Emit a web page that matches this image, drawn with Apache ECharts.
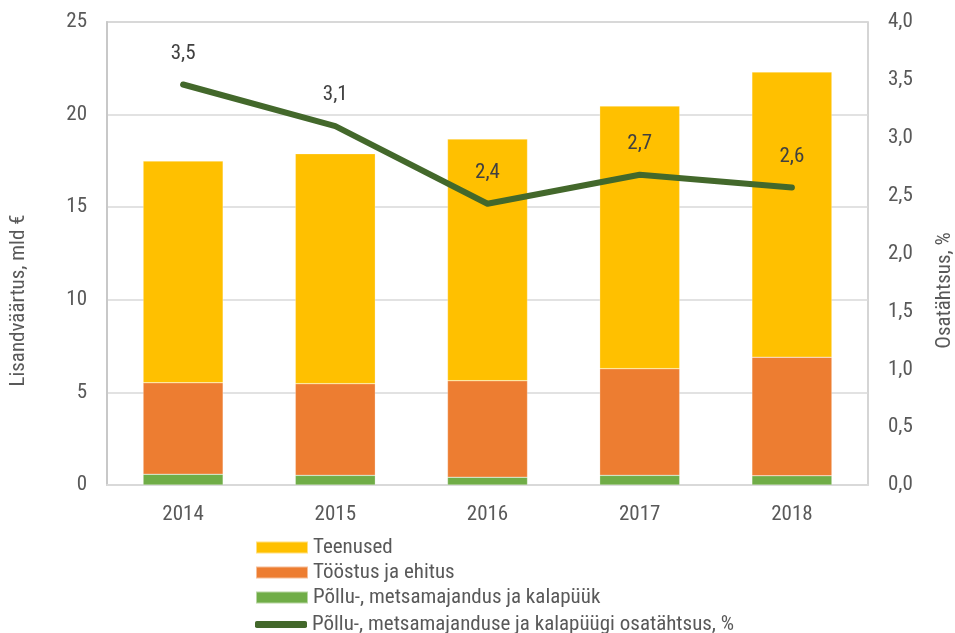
<!DOCTYPE html>
<html>
<head>
<meta charset="utf-8">
<script src="https://cdn.jsdelivr.net/npm/echarts@6/dist/echarts.min.js"></script>
<style>
  html, body { margin: 0; padding: 0; background: #fff; }
  #chart { width: 955px; height: 633px; }
</style>
</head>
<body>
<div id="chart"></div>
<script>
var years = ['2014', '2015', '2016', '2017', '2018'];
var teenused = [11.97, 12.42, 13.05, 14.18, 15.40];
var toostus = [4.94, 4.95, 5.21, 5.76, 6.40];
var pollu = [0.58, 0.52, 0.42, 0.52, 0.50];
var osatahtsus = [3.46, 3.10, 2.43, 2.68, 2.57];

var FONT = "'Roboto Condensed', 'Liberation Sans Narrow', 'DejaVu Sans Condensed', Roboto, sans-serif";
var LINE_NAME = 'Põllu-, metsamajanduse ja kalapüügi osatähtsus, %';

function comma(v, d) {
    return Number(v).toFixed(d).replace('.', ',');
}

var dom = document.getElementById('chart');
var myChart = echarts.init(dom, null, { renderer: 'canvas' });

var legendText = { fontFamily: FONT, fontSize: 21, lineHeight: 21, color: '#595959' };

var option = {
    animation: false,
    textStyle: { fontFamily: FONT },
    grid: {
        left: 107,
        right: 87,
        top: 22,
        bottom: 148,
        outerBoundsMode: 'none',
        show: true,
        borderColor: '#c8c8c8',
        borderWidth: 1.5
    },
    legend: [
        {
            orient: 'vertical',
            left: 250,
            top: 532,
            itemWidth: 52,
            itemHeight: 12,
            itemGap: 4,
            itemTextGap: 6,
            textStyle: legendText,
            data: [
                { name: 'Teenused', icon: 'rect' },
                { name: 'Tööstus ja ehitus', icon: 'rect' },
                { name: 'Põllu-, metsamajandus ja kalapüük', icon: 'rect' }
            ]
        },
        {
            orient: 'vertical',
            left: 250,
            top: 609,
            itemWidth: 52,
            itemHeight: 7,
            itemTextGap: 6,
            textStyle: legendText,
            data: [{ name: LINE_NAME, icon: 'roundRect' }]
        }
    ],
    xAxis: {
        type: 'category',
        data: years,
        axisTick: { show: false },
        axisLine: { lineStyle: { color: '#d9d9d9', width: 2 } },
        axisLabel: { fontFamily: FONT, fontSize: 21, color: '#595959', margin: 19 }
    },
    yAxis: [
        {
            type: 'value',
            min: 0,
            max: 25,
            interval: 5,
            name: 'Lisandväärtus, mld €',
            nameLocation: 'middle',
            nameRotate: 90,
            nameGap: 78,
            nameTextStyle: { fontFamily: FONT, fontSize: 21, color: '#595959', padding: [0, 94, 0, 0] },
            axisLine: { show: true, lineStyle: { color: '#c8c8c8', width: 2 } },
            axisTick: { show: false },
            axisLabel: { fontFamily: FONT, fontSize: 21, color: '#595959', margin: 20 },
            splitLine: { lineStyle: { color: '#d9d9d9', width: 1.5 } }
        },
        {
            type: 'value',
            min: 0,
            max: 4,
            interval: 0.5,
            name: 'Osatähtsus, %',
            nameLocation: 'middle',
            nameRotate: 90,
            nameGap: 66,
            nameTextStyle: { fontFamily: FONT, fontSize: 21, color: '#595959', padding: [0, 74, 0, 0] },
            axisLine: { show: false },
            axisTick: { show: false },
            axisLabel: {
                fontFamily: FONT, fontSize: 21, color: '#595959', margin: 20,
                formatter: function (v) { return comma(v, 1); }
            },
            splitLine: { show: false }
        }
    ],
    series: [
        {
            name: 'Põllu-, metsamajandus ja kalapüük',
            type: 'bar',
            stack: 'total',
            barWidth: 80,
            itemStyle: { color: '#70AD47', borderColor: 'rgba(255,255,255,0.5)', borderWidth: 0.5 },
            data: pollu
        },
        {
            name: 'Tööstus ja ehitus',
            type: 'bar',
            stack: 'total',
            barWidth: 80,
            itemStyle: { color: '#ED7D31', borderColor: 'rgba(255,255,255,0.5)', borderWidth: 0.5 },
            data: toostus
        },
        {
            name: 'Teenused',
            type: 'bar',
            stack: 'total',
            barWidth: 80,
            itemStyle: { color: '#FFC000', borderColor: 'rgba(255,255,255,0.5)', borderWidth: 0.5 },
            data: teenused
        },
        {
            name: LINE_NAME,
            type: 'line',
            yAxisIndex: 1,
            symbol: 'circle',
            symbolSize: 1,
            lineStyle: { color: '#43682B', width: 6, cap: 'round', join: 'round' },
            itemStyle: { color: '#43682B' },
            label: {
                show: true,
                position: 'top',
                distance: 20,
                fontFamily: FONT,
                fontSize: 21,
                color: '#404040',
                formatter: function (p) { return comma(p.value, 1); }
            },
            data: osatahtsus,
            z: 10
        }
    ]
};

myChart.setOption(option);
window.addEventListener('resize', myChart.resize);
</script>
</body>
</html>
